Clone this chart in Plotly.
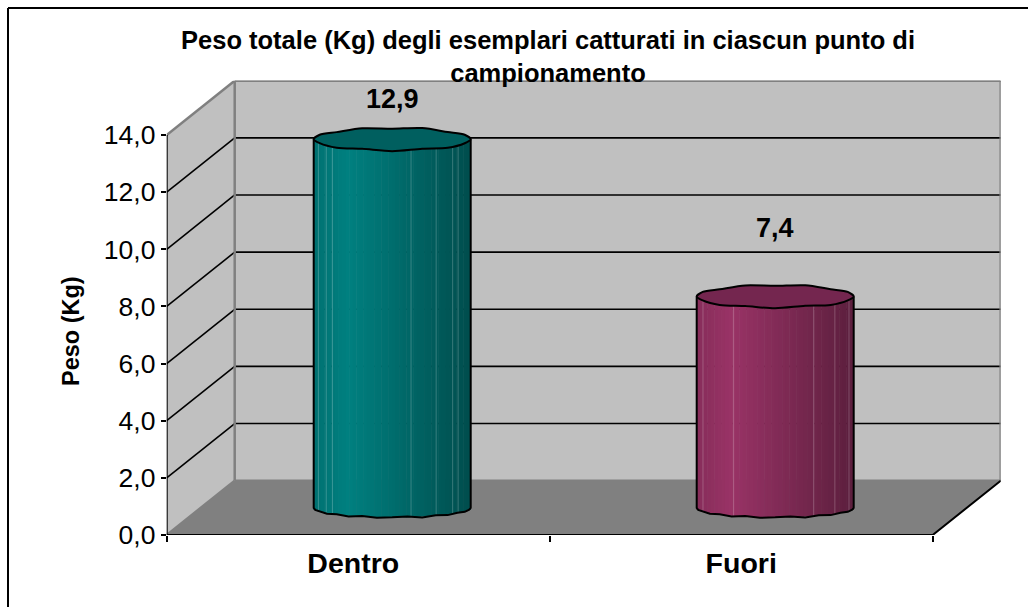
import math

import plotly.graph_objects as go

# values
categories = ["Dentro", "Fuori"]
category_ticks = [0.487, 1.5]
peso = [12.9, 7.4]
y_ticks = [0, 2, 4, 6, 8, 10, 12, 14]
label_heights = [15.26, 10.75]
title_text = "Peso totale (Kg) degli esemplari catturati in ciascun punto di<br>campionamento"
y_title = "Peso (Kg)"

# style
base_colors = [(0, 128, 128), (153, 51, 102)]
cap_colors = ["#005f5f", "#74264f"]
facet_lines = [
    [0.03, 0.08, 0.12, 0.62, 0.78, 0.885, 0.92],
    [0.04, 0.235, 0.745, 0.88, 0.97],
]
rim_wobble = [1.0, 1.08, 0.93, 1.1, 0.96, 1.08, 0.92, 1.07, 1.0, 0.93, 1.09, 0.94, 1.08, 0.92, 1.1, 0.95]

WIDTH, HEIGHT = 1028, 607
X_LEFT, X_RIGHT, X_BACK = 166.7, 932.7, 1000.7
Y_ZERO, Y_TOP, Y_BACK = 535, 135, 80.7

N_CAT = len(categories)
UNIT_X = (X_RIGHT - X_LEFT) / N_CAT
UNIT_Y = (Y_ZERO - Y_TOP) / y_ticks[-1]
DEPTH_X = (X_BACK - X_RIGHT) / UNIT_X
DEPTH_Y = (Y_TOP - Y_BACK) / UNIT_Y
BAR_WIDTH = 157 / UNIT_X
CAP_Y = 11 / UNIT_Y
FOOT_Y = 9.5 / UNIT_Y
N_STRIPS = 44


def px(x):
    return x / WIDTH


def py(y):
    return 1 - y / HEIGHT


def shade(u):
    if u < 0.22:
        return 0.88 + 0.12 * u / 0.22
    return 1 - 0.4 * (u - 0.22) / 0.78


def strip_color(rgb, u):
    k = shade(u)
    return "rgb({},{},{})".format(*[round(c * k) for c in rgb])


def create_cylinder(center, value, rgb):
    """Facetted body of one cylinder, drawn as a row of thin bars."""
    step = BAR_WIDTH / N_STRIPS
    top = value + DEPTH_Y / 2
    xs, heights, bases, colors = [], [], [], []
    for i in range(N_STRIPS):
        u = (i + 0.5) / N_STRIPS
        foot = DEPTH_Y / 2 - FOOT_Y * math.sqrt(1 - (2 * u - 1) ** 2)
        xs.append(center - BAR_WIDTH / 2 + u * BAR_WIDTH)
        bases.append(foot)
        heights.append(top - foot)
        colors.append(strip_color(rgb, u))
    return go.Bar(
        x=xs, y=heights, base=bases, width=step * 1.15,
        marker=dict(color=colors, line=dict(width=0)),
        cliponaxis=False, hoverinfo="skip", showlegend=False,
    )


def create_outline(center, value, cap_color):
    top = value + DEPTH_Y / 2
    half = BAR_WIDTH / 2
    n = len(rim_wobble)
    traces = []

    # sides and foot
    foot_x, foot_y = [center - half], [top]
    for i in range(n + 1):
        a = math.pi * i / n
        wob = rim_wobble[i % n] if 0 < i < n else 1
        foot_x.append(center - half * math.cos(a))
        foot_y.append(DEPTH_Y / 2 - FOOT_Y * wob * math.sin(a))
    foot_x.append(center + half)
    foot_y.append(top)
    traces.append(go.Scatter(
        x=foot_x, y=foot_y, mode="lines", line=dict(color="black", width=2),
        cliponaxis=False, hoverinfo="skip", showlegend=False,
    ))

    # cap
    cap_x, cap_y = [], []
    for i in range(n):
        a = 2 * math.pi * i / n
        cap_x.append(center + half * math.cos(a))
        cap_y.append(top + CAP_Y * rim_wobble[i] * math.sin(a))
    cap_x.append(cap_x[0])
    cap_y.append(cap_y[0])
    traces.append(go.Scatter(
        x=cap_x, y=cap_y, mode="lines", fill="toself", fillcolor=cap_color,
        line=dict(color="black", width=2, shape="spline", smoothing=0.8),
        cliponaxis=False, hoverinfo="skip", showlegend=False,
    ))
    return traces


def create_facet_lines(center, value, fractions, rgb):
    top = value + DEPTH_Y / 2
    xs, ys = [], []
    for f in fractions:
        x = center - BAR_WIDTH / 2 + f * BAR_WIDTH
        foot = DEPTH_Y / 2 - FOOT_Y * math.sqrt(1 - (2 * f - 1) ** 2)
        rim = top - CAP_Y * math.sqrt(1 - (2 * f - 1) ** 2)
        xs += [x, x, None]
        ys += [foot, rim, None]
    return go.Scatter(
        x=xs, y=ys, mode="lines", line=dict(color="rgba(255,255,255,0.22)", width=1),
        cliponaxis=False, hoverinfo="skip", showlegend=False,
    )


def wall_shapes():
    shapes = []
    front = N_CAT
    top = y_ticks[-1]
    walls = [
        (f"M 0 0 L {DEPTH_X} {DEPTH_Y} L {DEPTH_X} {top + DEPTH_Y} L 0 {top} Z", "#c0c0c0"),
        (f"M {DEPTH_X} {DEPTH_Y} L {front + DEPTH_X} {DEPTH_Y} L {front + DEPTH_X} {top + DEPTH_Y} "
         f"L {DEPTH_X} {top + DEPTH_Y} Z", "#c0c0c0"),
        (f"M 0 0 L {front} 0 L {front + DEPTH_X} {DEPTH_Y} L {DEPTH_X} {DEPTH_Y} Z", "#808080"),
    ]
    for path, color in walls:
        shapes.append(dict(type="path", path=path, fillcolor=color, line=dict(width=0),
                           xref="x", yref="y", layer="below"))

    for tick in y_ticks[1:]:
        shapes.append(dict(type="line", xref="x", yref="y", layer="below",
                           x0=DEPTH_X, x1=front + DEPTH_X, y0=tick + DEPTH_Y, y1=tick + DEPTH_Y,
                           line=dict(color="black", width=1.6)))
        if tick != top:
            shapes.append(dict(type="line", xref="x", yref="y", layer="below",
                               x0=0, x1=DEPTH_X, y0=tick, y1=tick + DEPTH_Y,
                               line=dict(color="black", width=1.6)))

    # grey edges of the walls
    edges = [
        (0, top, DEPTH_X, top + DEPTH_Y),
        (DEPTH_X, top + DEPTH_Y, front + DEPTH_X, top + DEPTH_Y),
        (DEPTH_X, DEPTH_Y, DEPTH_X, top + DEPTH_Y),
        (front + DEPTH_X, DEPTH_Y, front + DEPTH_X, top + DEPTH_Y),
        (DEPTH_X, DEPTH_Y, front + DEPTH_X, DEPTH_Y),
        (0, 0, DEPTH_X, DEPTH_Y),
    ]
    for x0, y0, x1, y1 in edges:
        shapes.append(dict(type="line", xref="x", yref="y", layer="below",
                           x0=x0, y0=y0, x1=x1, y1=y1, line=dict(color="#808080", width=2.5)))

    # chart frame, only left and top show
    for x0, y0, x1, y1 in [(8, 8, 8, HEIGHT), (8, 8, WIDTH, 8)]:
        shapes.append(dict(type="line", xref="paper", yref="paper", layer="above",
                           x0=px(x0), x1=px(x1), y0=py(y0), y1=py(y1),
                           line=dict(color="black", width=2)))
    return shapes


centers = [i + 0.5 + DEPTH_X / 2 for i in range(N_CAT)]

fig = go.Figure()
for center, value, rgb in zip(centers, peso, base_colors):
    fig.add_trace(create_cylinder(center, value, rgb))
for center, value, rgb, cap, lines in zip(centers, peso, base_colors, cap_colors, facet_lines):
    fig.add_trace(create_facet_lines(center, value, lines, rgb))
    for trace in create_outline(center, value, cap):
        fig.add_trace(trace)

# front axis lines and the floor's right edge stay on top
fig.add_trace(go.Scatter(
    x=[0, 0, None, 0, N_CAT, N_CAT + DEPTH_X], y=[0, y_ticks[-1], None, 0, 0, DEPTH_Y],
    mode="lines", line=dict(color="black", width=2),
    cliponaxis=False, hoverinfo="skip", showlegend=False,
))

annotations = [
    dict(x=center, y=h, xref="x", yref="y", text="<b>" + f"{value:.1f}".replace(".", ",") + "</b>",
         showarrow=False, font=dict(size=27, color="black"))
    for center, value, h in zip(centers, peso, label_heights)
]
annotations.append(dict(
    x=px(71), y=py(331), xref="paper", yref="paper", xanchor="center", yanchor="middle",
    text=f"<b>{y_title}</b>", textangle=-90,
    showarrow=False, font=dict(size=23.5, color="black"),
))

fig.update_layout(
    width=WIDTH, height=HEIGHT,
    margin=dict(l=0, r=0, t=0, b=0, autoexpand=False),
    paper_bgcolor="white", plot_bgcolor="white",
    font=dict(family="Liberation Sans, Arial, sans-serif", color="black"),
    separators=",.",
    barmode="overlay",
    showlegend=False,
    title=dict(
        text=f"<b>{title_text}</b>", x=px(548), xanchor="center", y=py(49), yanchor="top",
        font=dict(size=25.5, color="black"),
    ),
    xaxis=dict(
        domain=[px(X_LEFT), px(X_BACK)], range=[0, N_CAT + DEPTH_X],
        tickmode="array", tickvals=category_ticks,
        ticktext=[f"<b>{c}</b>" for c in categories], tickfont=dict(size=28.5),
        ticks="", ticklabelstandoff=8, showgrid=False, zeroline=False, showline=False,
        minor=dict(tickmode="array", tickvals=list(range(N_CAT + 1)), ticks="outside",
                   ticklen=6, tickwidth=2, tickcolor="black", showgrid=False),
        fixedrange=True,
    ),
    yaxis=dict(
        domain=[py(Y_ZERO), py(Y_BACK)], range=[0, y_ticks[-1] + DEPTH_Y],
        tickmode="array", tickvals=y_ticks, tickformat=".1f", tickfont=dict(size=26.5),
        ticks="outside", ticklen=5, tickwidth=2, tickcolor="black",
        showgrid=False, zeroline=False, showline=False, fixedrange=True,
    ),
    annotations=annotations,
    shapes=wall_shapes(),
)

fig.write_html(
    "out.html",
    config=dict(displayModeBar=False),
    post_script="document.body.style.margin='0';document.body.style.overflow='hidden';",
)
